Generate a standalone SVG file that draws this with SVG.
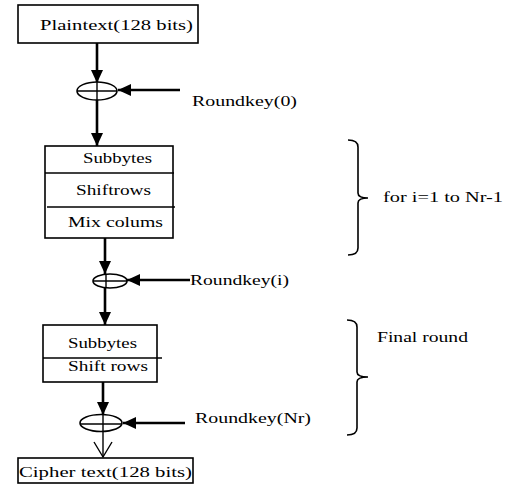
<svg xmlns="http://www.w3.org/2000/svg" width="514" height="484" viewBox="0 0 514 484">
<defs>
<marker id="ah" markerUnits="userSpaceOnUse" markerWidth="14" markerHeight="12" refX="13" refY="6" orient="auto">
<path d="M0,0 L13,6 L0,12 Z" fill="#000"/>
</marker>
<style>
.box{fill:#fff;stroke:#000;stroke-width:1.6}
.ln{stroke:#000;stroke-width:1.4;fill:none}
.ar{stroke:#000;stroke-width:2.6;fill:none;marker-end:url(#ah)}
.xor{fill:#fff;stroke:#000;stroke-width:1.6}
.br{stroke:#000;stroke-width:1.6;fill:none}
.t{font-family:'Liberation Serif','DejaVu Serif',serif;font-size:15px;fill:#000}
</style>
</defs>
<rect width="514" height="484" fill="#fff"/>
<g id="connectors">
<line class="ar" x1="97" y1="43" x2="97" y2="83"/>
<line class="ar" x1="180" y1="90" x2="118" y2="90"/>
<line class="ar" x1="97" y1="100" x2="97" y2="146"/>
<line class="ar" x1="105" y1="238" x2="105" y2="274"/>
<line class="ar" x1="190" y1="280" x2="127" y2="280"/>
<line class="ar" x1="105" y1="287" x2="105" y2="325"/>
<line class="ar" x1="103" y1="382" x2="103" y2="415"/>
<line class="ar" x1="185" y1="423" x2="123" y2="423"/>
<line class="ln" x1="103" y1="432" x2="103" y2="457" stroke-width="2"/>
<polyline class="ln" points="94,442 103,457 112,442" stroke-width="1.6"/>
</g>
<g id="plaintext">
<rect class="box" x="18" y="5" width="180" height="38"/>
<text class="t" font-family="Liberation Serif, serif" x="40" y="30" textLength="153" lengthAdjust="spacingAndGlyphs">Plaintext(128 bits)</text>
</g>
<g id="xor0">
<ellipse class="xor" cx="97" cy="91" rx="20" ry="9"/>
<line class="ln" x1="97" y1="82" x2="97" y2="100"/>
<line class="ln" x1="77" y1="91" x2="117" y2="91"/>
</g>
<g id="roundkey0">
<text class="t" x="192" y="106" textLength="105" lengthAdjust="spacingAndGlyphs">Roundkey(0)</text>
</g>
<g id="round">
<rect class="box" x="45" y="146" width="128" height="92"/>
<line class="ln" x1="45" y1="173" x2="174" y2="173"/>
<line class="ln" x1="47" y1="207" x2="175" y2="207"/>
<text class="t" x="83" y="163" textLength="69" lengthAdjust="spacingAndGlyphs">Subbytes</text>
<text class="t" x="76" y="195" textLength="75" lengthAdjust="spacingAndGlyphs">Shiftrows</text>
<text class="t" x="68" y="227" textLength="95" lengthAdjust="spacingAndGlyphs">Mix colums</text>
</g>
<g id="xori">
<ellipse class="xor" cx="110" cy="281" rx="17" ry="7"/>
<line class="ln" x1="106" y1="274" x2="106" y2="288"/>
<line class="ln" x1="93" y1="281" x2="127" y2="281"/>
</g>
<g id="roundkeyi">
<text class="t" x="190" y="285" textLength="99" lengthAdjust="spacingAndGlyphs">Roundkey(i)</text>
</g>
<g id="final">
<rect class="box" x="43" y="325" width="114" height="57"/>
<line class="ln" x1="43" y1="358" x2="162" y2="358"/>
<text class="t" x="68" y="348" textLength="69" lengthAdjust="spacingAndGlyphs">Subbytes</text>
<text class="t" x="68" y="371" textLength="80" lengthAdjust="spacingAndGlyphs">Shift rows</text>
</g>
<g id="xornr">
<ellipse class="xor" cx="101" cy="423" rx="21" ry="8.5"/>
<line class="ln" x1="103" y1="415" x2="103" y2="432"/>
<line class="ln" x1="80" y1="424" x2="122" y2="424"/>
</g>
<g id="roundkeynr">
<text class="t" x="195" y="423" textLength="116" lengthAdjust="spacingAndGlyphs">Roundkey(Nr)</text>
</g>
<g id="cipher">
<rect class="box" x="18" y="458" width="175" height="25"/>
<text class="t" x="19" y="477" textLength="173" lengthAdjust="spacingAndGlyphs">Cipher text(128 bits)</text>
</g>
<g id="brace1">
<path class="br" d="M348,140 Q358,140 358,147 L358,193 Q358,198 368,198 Q358,198 358,203 L358,248 Q358,255 348,255"/>
<text class="t" x="383" y="202" textLength="120" lengthAdjust="spacingAndGlyphs">for i=1 to Nr-1</text>
</g>
<g id="brace2">
<path class="br" d="M347,320 Q357,320 357,327 L357,372 Q357,377 368,377 Q357,377 357,382 L357,428 Q357,435 347,435"/>
<text class="t" x="377" y="342" textLength="91" lengthAdjust="spacingAndGlyphs">Final round</text>
</g>
</svg>
